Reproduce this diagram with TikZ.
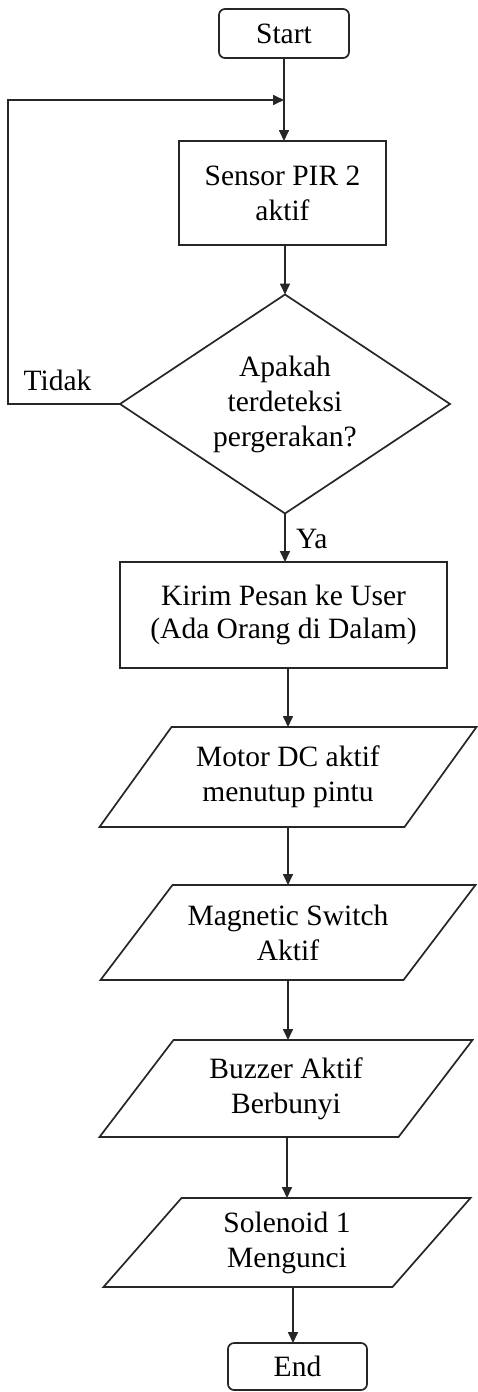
\documentclass[tikz,border=0pt]{standalone}
\usepackage{fontspec}
\setmainfont{Liberation Serif}
\usetikzlibrary{arrows.meta}
\begin{document}
\begin{tikzpicture}[x=1pt,y=-1pt,
  every node/.style={font=\fontsize{29.5}{35}\selectfont, align=center, outer sep=0pt, inner sep=0pt},
  line/.style={line width=1.7pt, draw=black!85},
  arr/.style={line, -{Triangle[length=11pt,width=10pt]}},
  term/.style={line, draw, rounded corners=6pt},
  proc/.style={line, draw}
]
\useasboundingbox (0,0) rectangle (478,1392);

\node[term, minimum width=130, minimum height=49] (start) at (284,33.5) {Start};
\node[proc, minimum width=207, minimum height=104] (sensor) at (282.5,193) {Sensor PIR 2\\aktif};
\node[minimum width=330, minimum height=219] (dec) at (285,404) {Apakah\\terdeteksi\\pergerakan?};
\draw[line] (dec.north) -- (dec.east) -- (dec.south) -- (dec.west) -- cycle;
\node[proc, minimum width=327, minimum height=106, font=\fontsize{29.5}{33}\selectfont] (kirim) at (283.5,615) {Kirim Pesan ke User\\(Ada Orang di Dalam)};

\node[minimum width=305, minimum height=100] (motor) at (288,777) {Motor DC aktif\\menutup pintu};
\draw[line] ([xshift=36pt]motor.north west) -- ([xshift=36pt]motor.north east) -- ([xshift=-36pt]motor.south east) -- ([xshift=-36pt]motor.south west) -- cycle;

\node[minimum width=303, minimum height=95] (mag) at (288,932.5) {Magnetic Switch\\Aktif};
\draw[line] ([xshift=36pt]mag.north west) -- ([xshift=36pt]mag.north east) -- ([xshift=-36pt]mag.south east) -- ([xshift=-36pt]mag.south west) -- cycle;

\node[minimum width=299, minimum height=97] (buzz) at (286,1088.5) {Buzzer Aktif\\Berbunyi};
\draw[line] ([xshift=37pt]buzz.north west) -- ([xshift=37pt]buzz.north east) -- ([xshift=-37pt]buzz.south east) -- ([xshift=-37pt]buzz.south west) -- cycle;

\node[minimum width=289, minimum height=89] (sol) at (287,1242.5) {Solenoid 1\\Mengunci};
\draw[line] ([xshift=39pt]sol.north west) -- ([xshift=39pt]sol.north east) -- ([xshift=-39pt]sol.south east) -- ([xshift=-39pt]sol.south west) -- cycle;

\node[term, minimum width=139, minimum height=47] (end) at (297.5,1366.5) {End};

\coordinate (lefttop) at (8,100);
\coordinate (join) at (284,100);

\draw[arr] (start.south) -- (start.south |- sensor.north);
\draw[arr] (dec.north |- sensor.south) -- (dec.north);
\draw[arr] (dec.south) -- (dec.south |- kirim.north);
\draw[arr] (motor.north |- kirim.south) -- (motor.north);
\draw[arr] (motor.south) -- (mag.north);
\draw[arr] (mag.south) -- (mag.south |- buzz.north);
\draw[arr] (sol.north |- buzz.south) -- (sol.north);
\draw[arr] ([xshift=6pt]sol.south) -- ([xshift=-4.5pt]end.north);
\draw[arr] (dec.west) -| (lefttop) -- (join);

\node[anchor=base] (tidak) at (57.5,390) {Tidak};
\node[anchor=base west] (ya) at (296,548) {Ya};
\end{tikzpicture}
\end{document}
